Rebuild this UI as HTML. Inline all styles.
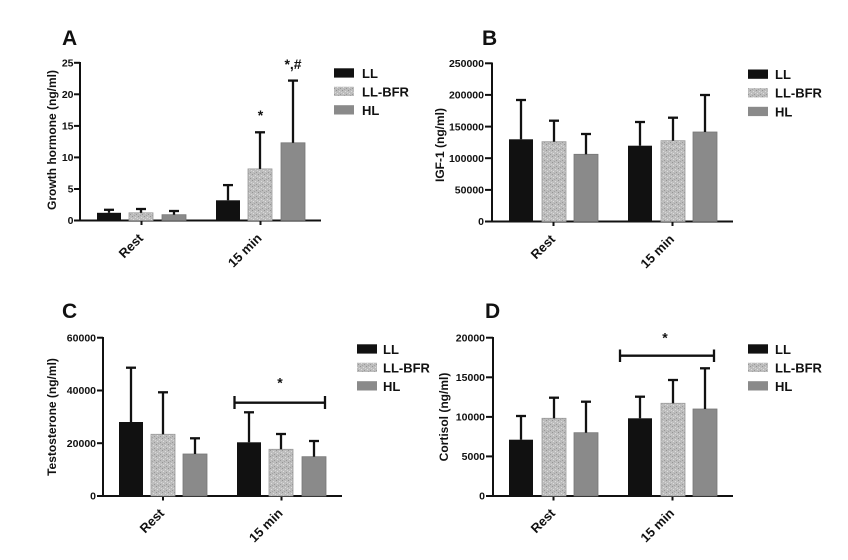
<!DOCTYPE html>
<html><head><meta charset="utf-8"><style>
html,body{margin:0;padding:0;background:#fff;}
svg{display:block;}
text{font-family:"Liberation Sans",Arial,sans-serif;font-weight:bold;fill:#111;}
.t{font-size:10.5px;}
.lg{font-size:13px;}
.xl{font-size:13px;}
.yl{font-size:12px;}
.pl{font-size:21px;}
.st{font-size:14px;}
</style></head><body>
<svg width="848" height="560" viewBox="0 0 848 560" xmlns="http://www.w3.org/2000/svg">
<defs>
<pattern id="bfr" width="6" height="6" patternUnits="userSpaceOnUse">
<rect width="6" height="6" fill="#bdbdbd"/>
<rect x="0" y="0" width="1" height="1" fill="#949494"/>
<rect x="3" y="1" width="1" height="1" fill="#dcdcdc"/>
<rect x="1" y="3" width="1" height="1" fill="#dedede"/>
<rect x="4" y="4" width="1" height="1" fill="#989898"/>
<rect x="2" y="5" width="1" height="1" fill="#a4a4a4"/>
<rect x="5" y="2" width="1" height="1" fill="#d6d6d6"/>
</pattern>
</defs>
<rect width="848" height="560" fill="#fff"/>

<!-- ============ PANEL A ============ -->
<text class="pl" x="62" y="45">A</text>
<g stroke="#111" stroke-width="2" fill="none">
<line x1="80" y1="62" x2="80" y2="221.5"/>
<line x1="79" y1="220.5" x2="321" y2="220.5"/>
<line x1="74" y1="62.8" x2="80" y2="62.8"/>
<line x1="74" y1="94.3" x2="80" y2="94.3"/>
<line x1="74" y1="125.9" x2="80" y2="125.9"/>
<line x1="74" y1="157.4" x2="80" y2="157.4"/>
<line x1="74" y1="189" x2="80" y2="189"/>
<line x1="74" y1="220.5" x2="80" y2="220.5"/>
<line x1="141.5" y1="220.5" x2="141.5" y2="225"/>
<line x1="260.5" y1="220.5" x2="260.5" y2="225"/>
</g>
<g text-anchor="end">
<text class="t" x="73.5" y="66.5">25</text>
<text class="t" x="73.5" y="98">20</text>
<text class="t" x="73.5" y="129.6">15</text>
<text class="t" x="73.5" y="161.1">10</text>
<text class="t" x="73.5" y="192.7">5</text>
<text class="t" x="73.5" y="224.2">0</text>
</g>
<text class="yl" text-anchor="middle" transform="translate(56,140) rotate(-90)">Growth hormone (ng/ml)</text>
<rect x="97" y="212.8" width="24" height="7.7" fill="#111"/>
<rect x="129" y="212.8" width="24" height="7.7" fill="url(#bfr)" stroke="#9a9a9a" stroke-width="0.8"/>
<rect x="162" y="214.7" width="24" height="5.8" fill="#8a8a8a" stroke="#777" stroke-width="0.8"/>
<rect x="216" y="200.3" width="24" height="20.2" fill="#111"/>
<rect x="248" y="168.9" width="24" height="51.6" fill="url(#bfr)" stroke="#9a9a9a" stroke-width="0.8"/>
<rect x="281" y="142.8" width="24" height="77.7" fill="#8a8a8a" stroke="#777" stroke-width="0.8"/>
<g stroke="#111" stroke-width="2.3">
<line x1="109" y1="212.8" x2="109" y2="209.8"/><line x1="104" y1="209.8" x2="114" y2="209.8"/>
<line x1="141" y1="212.8" x2="141" y2="209"/><line x1="136" y1="209" x2="146" y2="209"/>
<line x1="174" y1="214.7" x2="174" y2="211"/><line x1="169" y1="211" x2="179" y2="211"/>
<line x1="228" y1="200.3" x2="228" y2="185.1"/><line x1="223" y1="185.1" x2="233" y2="185.1"/>
<line x1="260" y1="168.9" x2="260" y2="132.3"/><line x1="255" y1="132.3" x2="265" y2="132.3"/>
<line x1="293" y1="142.8" x2="293" y2="80.6"/><line x1="288" y1="80.6" x2="298" y2="80.6"/>
</g>
<text class="st" x="260.5" y="120" text-anchor="middle">*</text>
<text class="st" x="293" y="69" text-anchor="middle">*,#</text>
<text class="xl" text-anchor="end" transform="translate(144,239) rotate(-45)">Rest</text>
<text class="xl" text-anchor="end" transform="translate(262.5,239) rotate(-45)">15 min</text>
<rect x="334" y="68.3" width="20" height="9.3" fill="#111"/>
<rect x="334" y="86.7" width="20" height="9.3" fill="url(#bfr)"/>
<rect x="334" y="105.2" width="20" height="9.3" fill="#8a8a8a"/>
<text class="lg" x="362" y="77.8">LL</text>
<text class="lg" x="362" y="96.3">LL-BFR</text>
<text class="lg" x="362" y="114.8">HL</text>

<!-- ============ PANEL B ============ -->
<text class="pl" x="482" y="45">B</text>
<g stroke="#111" stroke-width="2" fill="none">
<line x1="492" y1="62.5" x2="492" y2="222.5"/>
<line x1="491" y1="221.5" x2="733" y2="221.5"/>
<line x1="485" y1="63.3" x2="492" y2="63.3"/>
<line x1="485" y1="94.9" x2="492" y2="94.9"/>
<line x1="485" y1="126.6" x2="492" y2="126.6"/>
<line x1="485" y1="158.2" x2="492" y2="158.2"/>
<line x1="485" y1="189.9" x2="492" y2="189.9"/>
<line x1="485" y1="221.5" x2="492" y2="221.5"/>
<line x1="553.5" y1="221.5" x2="553.5" y2="226"/>
<line x1="672.5" y1="221.5" x2="672.5" y2="226"/>
</g>
<g text-anchor="end">
<text class="t" x="484" y="67">250000</text>
<text class="t" x="484" y="98.6">200000</text>
<text class="t" x="484" y="130.3">150000</text>
<text class="t" x="484" y="161.9">100000</text>
<text class="t" x="484" y="193.6">50000</text>
<text class="t" x="484" y="225.2">0</text>
</g>
<text class="yl" text-anchor="middle" transform="translate(444,145) rotate(-90)">IGF-1 (ng/ml)</text>
<rect x="509" y="139.3" width="24" height="82.2" fill="#111"/>
<rect x="542" y="141.7" width="24" height="79.8" fill="url(#bfr)" stroke="#9a9a9a" stroke-width="0.8"/>
<rect x="574" y="154.3" width="24" height="67.2" fill="#8a8a8a" stroke="#777" stroke-width="0.8"/>
<rect x="628" y="145.7" width="24" height="75.8" fill="#111"/>
<rect x="661" y="140.7" width="24" height="80.8" fill="url(#bfr)" stroke="#9a9a9a" stroke-width="0.8"/>
<rect x="693" y="132" width="24" height="89.5" fill="#8a8a8a" stroke="#777" stroke-width="0.8"/>
<g stroke="#111" stroke-width="2.3">
<line x1="521" y1="139.3" x2="521" y2="100"/><line x1="516" y1="100" x2="526" y2="100"/>
<line x1="554" y1="141.7" x2="554" y2="120.7"/><line x1="549" y1="120.7" x2="559" y2="120.7"/>
<line x1="586" y1="154.3" x2="586" y2="134"/><line x1="581" y1="134" x2="591" y2="134"/>
<line x1="640" y1="145.7" x2="640" y2="122"/><line x1="635" y1="122" x2="645" y2="122"/>
<line x1="673" y1="140.7" x2="673" y2="117.7"/><line x1="668" y1="117.7" x2="678" y2="117.7"/>
<line x1="705" y1="132" x2="705" y2="95"/><line x1="700" y1="95" x2="710" y2="95"/>
</g>
<text class="xl" text-anchor="end" transform="translate(556,240) rotate(-45)">Rest</text>
<text class="xl" text-anchor="end" transform="translate(675,240) rotate(-45)">15 min</text>
<rect x="748" y="69.5" width="20" height="9.3" fill="#111"/>
<rect x="748" y="88.2" width="20" height="9.3" fill="url(#bfr)"/>
<rect x="748" y="106.8" width="20" height="9.3" fill="#8a8a8a"/>
<text class="lg" x="775" y="79">LL</text>
<text class="lg" x="775" y="97.7">LL-BFR</text>
<text class="lg" x="775" y="116.3">HL</text>

<!-- ============ PANEL C ============ -->
<text class="pl" x="62" y="318">C</text>
<g stroke="#111" stroke-width="2" fill="none">
<line x1="103" y1="337" x2="103" y2="497"/>
<line x1="102" y1="496" x2="342" y2="496"/>
<line x1="97" y1="337.7" x2="103" y2="337.7"/>
<line x1="97" y1="390.5" x2="103" y2="390.5"/>
<line x1="97" y1="443.2" x2="103" y2="443.2"/>
<line x1="97" y1="496" x2="103" y2="496"/>
<line x1="163" y1="496" x2="163" y2="500.5"/>
<line x1="281.5" y1="496" x2="281.5" y2="500.5"/>
</g>
<g text-anchor="end">
<text class="t" x="96" y="341.4">60000</text>
<text class="t" x="96" y="394.2">40000</text>
<text class="t" x="96" y="446.9">20000</text>
<text class="t" x="96" y="499.7">0</text>
</g>
<text class="yl" text-anchor="middle" transform="translate(56,417) rotate(-90)">Testosterone (ng/ml)</text>
<rect x="119" y="422" width="24" height="74" fill="#111"/>
<rect x="151" y="434.3" width="24" height="61.7" fill="url(#bfr)" stroke="#9a9a9a" stroke-width="0.8"/>
<rect x="183" y="454" width="24" height="42" fill="#8a8a8a" stroke="#777" stroke-width="0.8"/>
<rect x="237" y="442.3" width="24" height="53.7" fill="#111"/>
<rect x="269" y="449.3" width="24" height="46.7" fill="url(#bfr)" stroke="#9a9a9a" stroke-width="0.8"/>
<rect x="302" y="456.7" width="24" height="39.3" fill="#8a8a8a" stroke="#777" stroke-width="0.8"/>
<g stroke="#111" stroke-width="2.3">
<line x1="131" y1="422" x2="131" y2="367.7"/><line x1="126" y1="367.7" x2="136" y2="367.7"/>
<line x1="163" y1="434.3" x2="163" y2="392.3"/><line x1="158" y1="392.3" x2="168" y2="392.3"/>
<line x1="195" y1="454" x2="195" y2="438.3"/><line x1="190" y1="438.3" x2="200" y2="438.3"/>
<line x1="249" y1="442.3" x2="249" y2="412.3"/><line x1="244" y1="412.3" x2="254" y2="412.3"/>
<line x1="281" y1="449.3" x2="281" y2="434"/><line x1="276" y1="434" x2="286" y2="434"/>
<line x1="314" y1="456.7" x2="314" y2="441"/><line x1="309" y1="441" x2="319" y2="441"/>
<line x1="234.5" y1="402.7" x2="325" y2="402.7"/>
<line x1="234.5" y1="396" x2="234.5" y2="409"/>
<line x1="325" y1="396" x2="325" y2="409"/>
</g>
<text class="st" x="280" y="387.5" text-anchor="middle">*</text>
<text class="xl" text-anchor="end" transform="translate(165,514) rotate(-45)">Rest</text>
<text class="xl" text-anchor="end" transform="translate(283.5,514) rotate(-45)">15 min</text>
<rect x="357" y="344.3" width="20" height="9.3" fill="#111"/>
<rect x="357" y="362.7" width="20" height="9.3" fill="url(#bfr)"/>
<rect x="357" y="381.2" width="20" height="9.3" fill="#8a8a8a"/>
<text class="lg" x="383" y="353.8">LL</text>
<text class="lg" x="383" y="372.3">LL-BFR</text>
<text class="lg" x="383" y="390.8">HL</text>

<!-- ============ PANEL D ============ -->
<text class="pl" x="485" y="318">D</text>
<g stroke="#111" stroke-width="2" fill="none">
<line x1="493" y1="337" x2="493" y2="497"/>
<line x1="492" y1="496" x2="733" y2="496"/>
<line x1="486" y1="337.7" x2="493" y2="337.7"/>
<line x1="486" y1="377.3" x2="493" y2="377.3"/>
<line x1="486" y1="416.9" x2="493" y2="416.9"/>
<line x1="486" y1="456.4" x2="493" y2="456.4"/>
<line x1="486" y1="496" x2="493" y2="496"/>
<line x1="553.5" y1="496" x2="553.5" y2="500.5"/>
<line x1="672.5" y1="496" x2="672.5" y2="500.5"/>
</g>
<g text-anchor="end">
<text class="t" x="485" y="341.4">20000</text>
<text class="t" x="485" y="381">15000</text>
<text class="t" x="485" y="420.6">10000</text>
<text class="t" x="485" y="460.1">5000</text>
<text class="t" x="485" y="499.7">0</text>
</g>
<text class="yl" text-anchor="middle" transform="translate(448,417) rotate(-90)">Cortisol (ng/ml)</text>
<rect x="509" y="439.7" width="24" height="56.3" fill="#111"/>
<rect x="542" y="418.3" width="24" height="77.7" fill="url(#bfr)" stroke="#9a9a9a" stroke-width="0.8"/>
<rect x="574" y="432.7" width="24" height="63.3" fill="#8a8a8a" stroke="#777" stroke-width="0.8"/>
<rect x="628" y="418.3" width="24" height="77.7" fill="#111"/>
<rect x="661" y="403.3" width="24" height="92.7" fill="url(#bfr)" stroke="#9a9a9a" stroke-width="0.8"/>
<rect x="693" y="409" width="24" height="87" fill="#8a8a8a" stroke="#777" stroke-width="0.8"/>
<g stroke="#111" stroke-width="2.3">
<line x1="521" y1="439.7" x2="521" y2="416"/><line x1="516" y1="416" x2="526" y2="416"/>
<line x1="554" y1="418.3" x2="554" y2="397.7"/><line x1="549" y1="397.7" x2="559" y2="397.7"/>
<line x1="586" y1="432.7" x2="586" y2="401.7"/><line x1="581" y1="401.7" x2="591" y2="401.7"/>
<line x1="640" y1="418.3" x2="640" y2="396.7"/><line x1="635" y1="396.7" x2="645" y2="396.7"/>
<line x1="673" y1="403.3" x2="673" y2="380"/><line x1="668" y1="380" x2="678" y2="380"/>
<line x1="705" y1="409" x2="705" y2="368.3"/><line x1="700" y1="368.3" x2="710" y2="368.3"/>
<line x1="620" y1="355.7" x2="714" y2="355.7"/>
<line x1="620" y1="349.5" x2="620" y2="362"/>
<line x1="714" y1="349.5" x2="714" y2="362"/>
</g>
<text class="st" x="665" y="342.5" text-anchor="middle">*</text>
<text class="xl" text-anchor="end" transform="translate(556,514) rotate(-45)">Rest</text>
<text class="xl" text-anchor="end" transform="translate(675,514) rotate(-45)">15 min</text>
<rect x="748" y="344.3" width="20" height="9.3" fill="#111"/>
<rect x="748" y="362.7" width="20" height="9.3" fill="url(#bfr)"/>
<rect x="748" y="381.2" width="20" height="9.3" fill="#8a8a8a"/>
<text class="lg" x="775" y="353.8">LL</text>
<text class="lg" x="775" y="372.3">LL-BFR</text>
<text class="lg" x="775" y="390.8">HL</text>
</svg>
</body></html>
